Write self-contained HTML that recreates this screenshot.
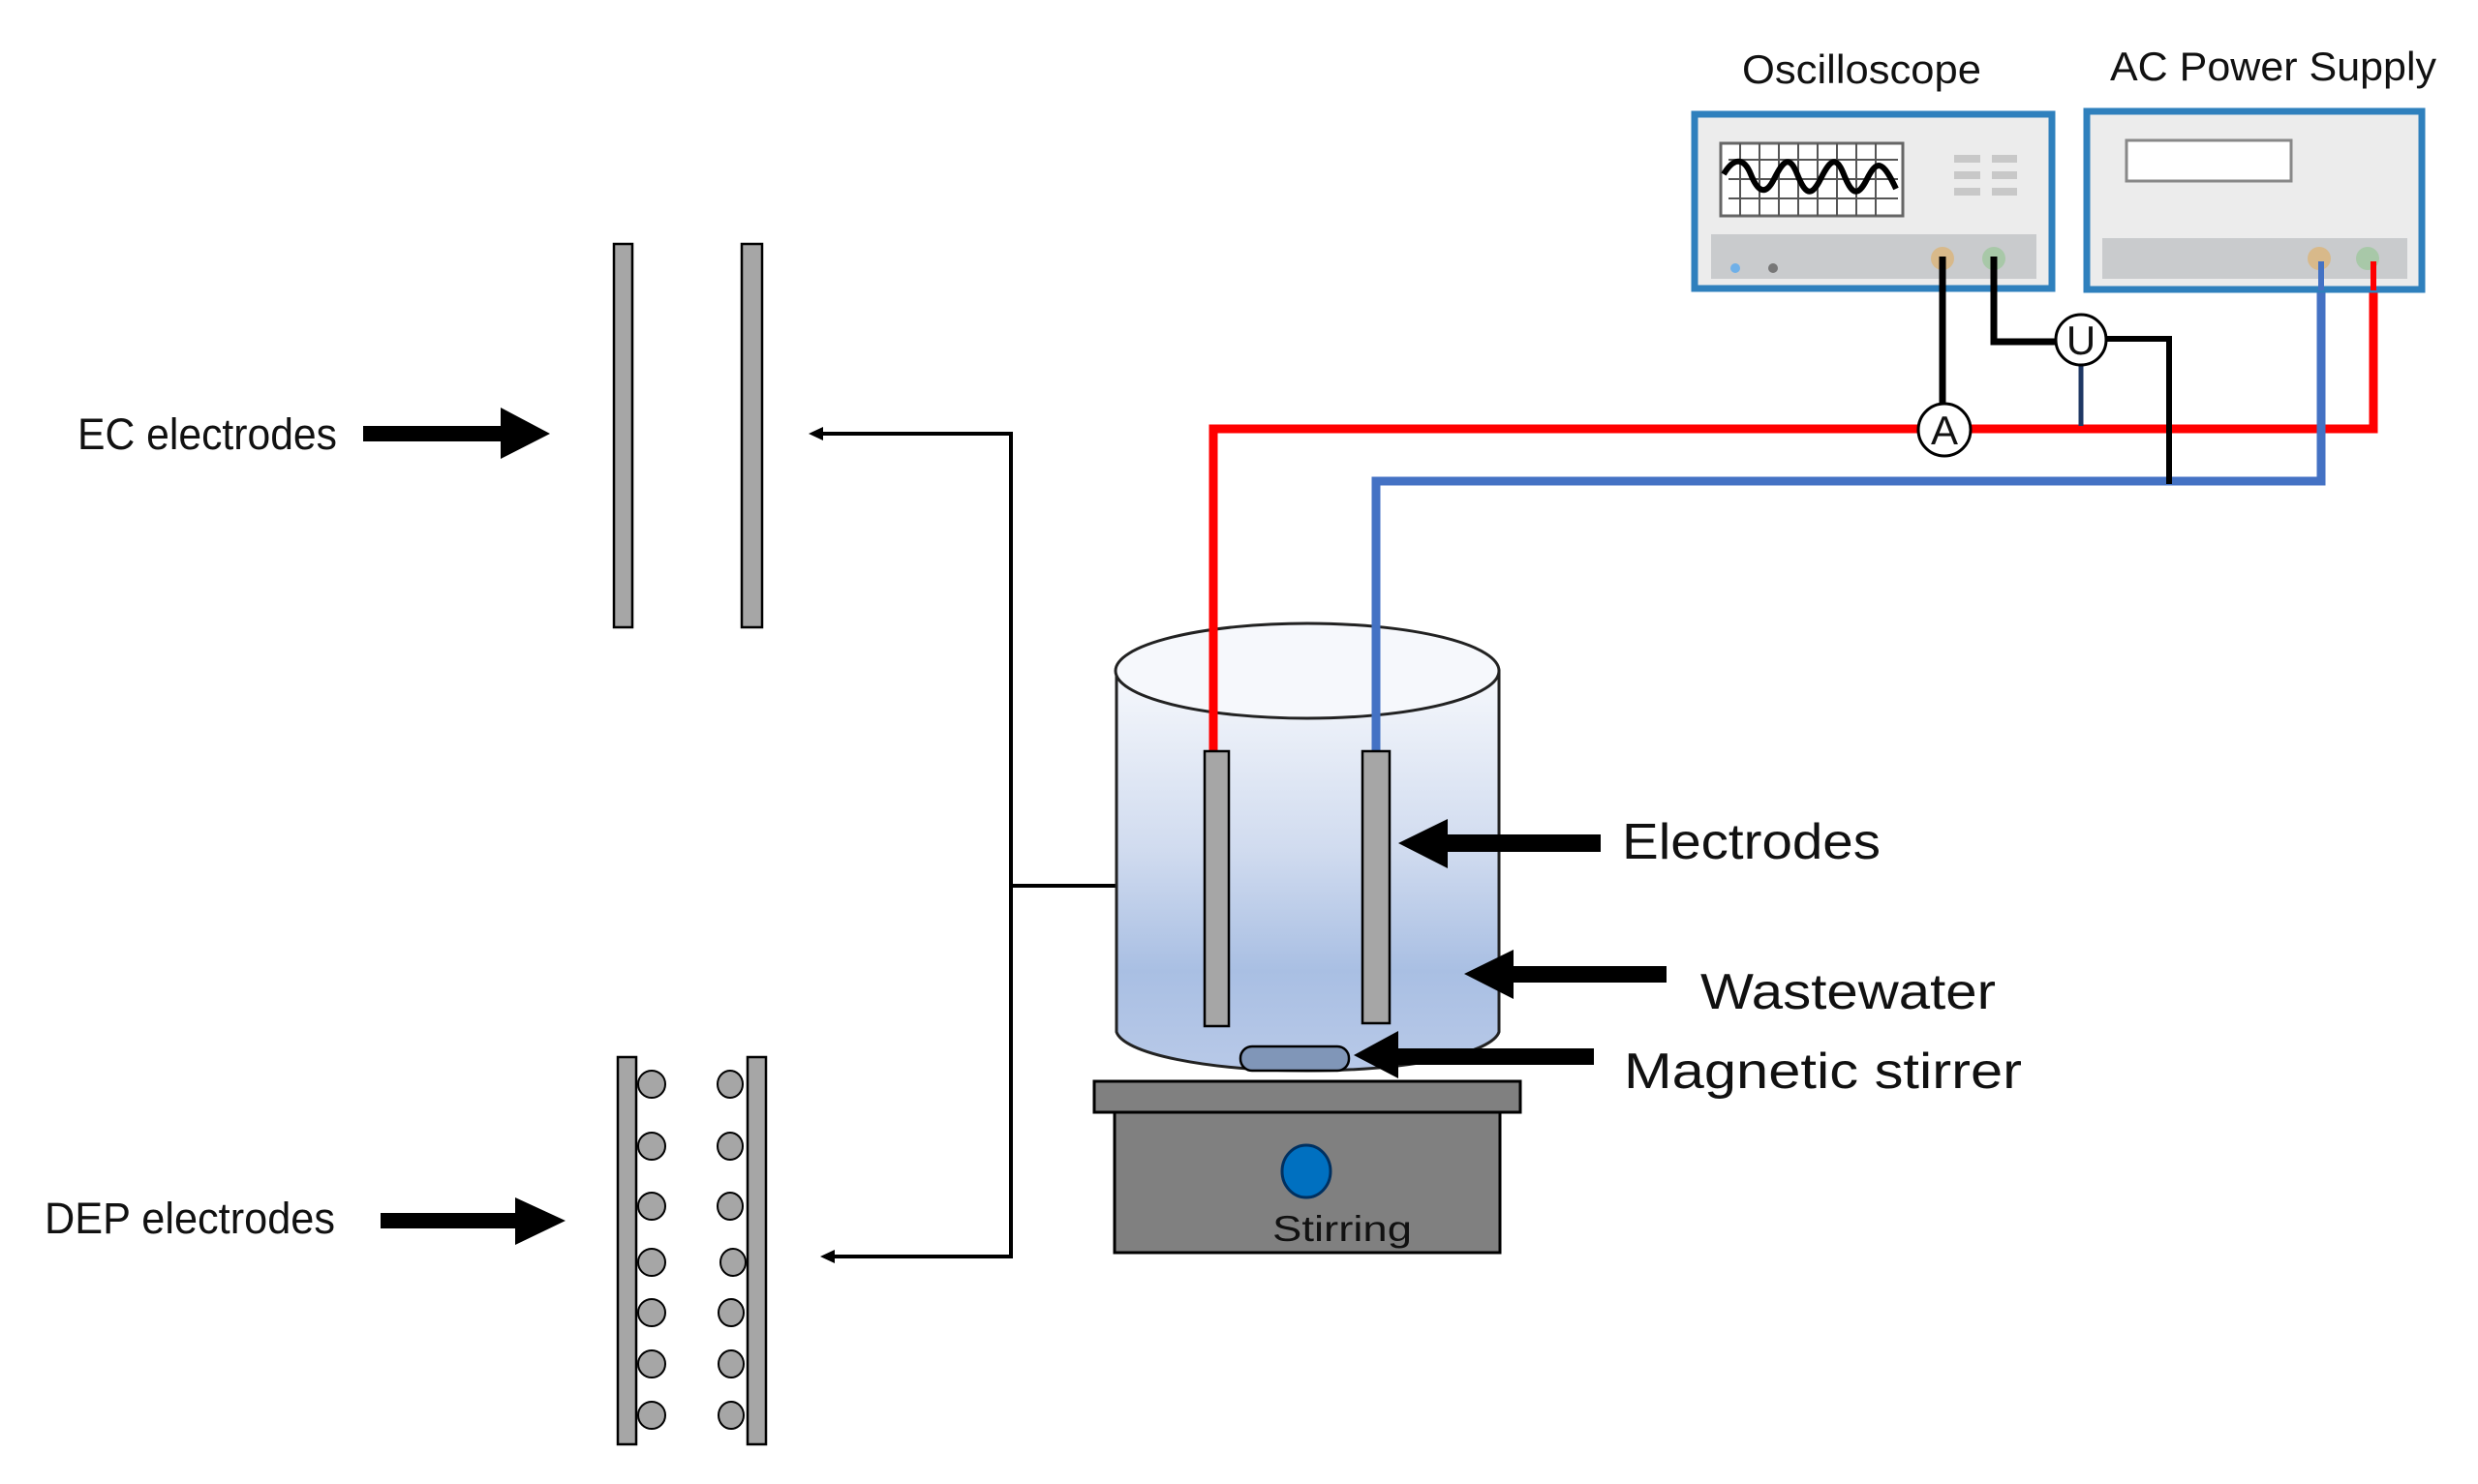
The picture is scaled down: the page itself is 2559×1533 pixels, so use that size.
<!DOCTYPE html>
<html><head><meta charset="utf-8"><style>html,body{margin:0;padding:0;background:#fff}svg{display:block}text{font-family:"Liberation Sans",sans-serif;fill:#111}</style></head>
<body>
<svg width="2559" height="1533" viewBox="0 0 2559 1533" xmlns="http://www.w3.org/2000/svg">
<defs>
<linearGradient id="water" x1="0" y1="0" x2="0" y2="1">
<stop offset="0" stop-color="#f6f8fc"/><stop offset="0.45" stop-color="#d0dbef"/><stop offset="0.75" stop-color="#a9bfe3"/><stop offset="1" stop-color="#b8c9e8"/>
</linearGradient>
</defs>

<!-- Left labels & arrows -->
<text x="80" y="464" font-size="45" textLength="268" lengthAdjust="spacingAndGlyphs">EC electrodes</text>
<rect x="375" y="440" width="150" height="16" fill="#000"/>
<polygon points="517,421 568,448 517,474" fill="#000"/>
<text x="46" y="1274" font-size="45" textLength="300" lengthAdjust="spacingAndGlyphs">DEP electrodes</text>
<rect x="393" y="1253" width="145" height="16" fill="#000"/>
<polygon points="532,1237 584,1261 532,1286" fill="#000"/>

<!-- EC plates -->
<rect x="634" y="252" width="19" height="396" fill="#a6a6a6" stroke="#000" stroke-width="2.5"/>
<rect x="766" y="252" width="21" height="396" fill="#a6a6a6" stroke="#000" stroke-width="2.5"/>

<!-- DEP plates -->
<rect x="638" y="1092" width="19" height="400" fill="#a6a6a6" stroke="#000" stroke-width="2.5"/>
<rect x="772" y="1092" width="19" height="400" fill="#a6a6a6" stroke="#000" stroke-width="2.5"/>
<g fill="#a6a6a6" stroke="#000" stroke-width="2">
<ellipse cx="673" cy="1120" rx="14" ry="14"/><ellipse cx="754" cy="1120" rx="13" ry="14"/>
<ellipse cx="673" cy="1184" rx="14" ry="14"/><ellipse cx="754" cy="1184" rx="13" ry="14"/>
<ellipse cx="673" cy="1246" rx="14" ry="14"/><ellipse cx="754" cy="1246" rx="13" ry="14"/>
<ellipse cx="673" cy="1304" rx="14" ry="14"/><ellipse cx="757" cy="1304" rx="13" ry="14"/>
<ellipse cx="673" cy="1356" rx="14" ry="14"/><ellipse cx="755" cy="1356" rx="13" ry="14"/>
<ellipse cx="673" cy="1409" rx="14" ry="14"/><ellipse cx="755" cy="1409" rx="13" ry="14"/>
<ellipse cx="673" cy="1462" rx="14" ry="14"/><ellipse cx="755" cy="1462" rx="13" ry="14"/>
</g>

<!-- Connector lines -->
<polyline points="845,448 1044,448 1044,1298 857,1298" fill="none" stroke="#000" stroke-width="4"/>
<polygon points="835,448 850,441 850,455" fill="#000"/>
<polygon points="847,1298 862,1291 862,1305" fill="#000"/>
<line x1="1044" y1="915" x2="1245" y2="915" stroke="#000" stroke-width="4"/>

<!-- Hotplate -->
<rect x="1151" y="1149" width="398" height="145" fill="#808080" stroke="#000" stroke-width="3"/>
<rect x="1130" y="1117" width="440" height="32" fill="#808080" stroke="#000" stroke-width="3"/>
<ellipse cx="1349" cy="1210" rx="25" ry="27" fill="#0070c0" stroke="#003060" stroke-width="3"/>
<text x="1314" y="1282" font-size="37" textLength="144" lengthAdjust="spacingAndGlyphs">Stirring</text>

<!-- Cylinder -->
<path d="M1153,693 L1153,1066 A198,43 0 0 0 1548,1066 L1548,693 Z" fill="url(#water)" stroke="#222" stroke-width="3"/>
<ellipse cx="1350" cy="693" rx="198" ry="49" fill="#f6f8fc" stroke="#222" stroke-width="3"/>

<!-- Wires -->
<polyline points="1253,778 1253,443 2451,443 2451,300" fill="none" stroke="#ff0000" stroke-width="9"/>
<polyline points="1421,778 1421,497 2397,497 2397,300" fill="none" stroke="#4472c4" stroke-width="9"/>

<!-- Electrodes in cylinder -->
<rect x="1244" y="776" width="25" height="284" fill="#a6a6a6" stroke="#000" stroke-width="2.5"/>
<rect x="1407" y="776" width="28" height="281" fill="#a6a6a6" stroke="#000" stroke-width="2.5"/>
<rect x="1281" y="1081" width="112" height="25" rx="12" fill="#8096b8" stroke="#000" stroke-width="2.5"/>

<!-- Right arrows and labels -->
<rect x="1490" y="862" width="163" height="18" fill="#000"/>
<polygon points="1444,871 1495,846 1495,897" fill="#000"/>
<text x="1675" y="887" font-size="52" textLength="267" lengthAdjust="spacingAndGlyphs">Electrodes</text>
<rect x="1558" y="998" width="163" height="17" fill="#000"/>
<polygon points="1512,1006 1563,981 1563,1032" fill="#000"/>
<text x="1756" y="1042" font-size="52" textLength="305" lengthAdjust="spacingAndGlyphs">Wastewater</text>
<rect x="1440" y="1083" width="206" height="17" fill="#000"/>
<polygon points="1398,1090 1444,1065 1444,1114" fill="#000"/>
<text x="1677" y="1124" font-size="52" textLength="411" lengthAdjust="spacingAndGlyphs">Magnetic stirrer</text>

<!-- Oscilloscope -->
<text x="1799" y="86" font-size="42" textLength="247" lengthAdjust="spacingAndGlyphs">Oscilloscope</text>
<rect x="1750" y="118" width="369" height="180" fill="#ececec" stroke="#2f80bd" stroke-width="7"/>
<rect x="1767" y="242" width="336" height="46" fill="#c9cbcd"/>
<rect x="1777" y="148" width="188" height="75" fill="#fff" stroke="#666" stroke-width="3"/>
<g stroke="#555" stroke-width="2">
<line x1="1797" y1="148" x2="1797" y2="223"/><line x1="1817" y1="148" x2="1817" y2="223"/><line x1="1837" y1="148" x2="1837" y2="223"/><line x1="1857" y1="148" x2="1857" y2="223"/><line x1="1877" y1="148" x2="1877" y2="223"/><line x1="1897" y1="148" x2="1897" y2="223"/><line x1="1917" y1="148" x2="1917" y2="223"/><line x1="1937" y1="148" x2="1937" y2="223"/>
<line x1="1785" y1="165" x2="1960" y2="165"/><line x1="1785" y1="185" x2="1960" y2="185"/><line x1="1785" y1="205" x2="1960" y2="205"/>
</g>
<path d="M1780,180 C1792,160 1802,165 1808,180 S1822,205 1832,185 S1848,160 1856,180 S1870,205 1880,185 S1896,160 1904,180 S1918,205 1928,185 S1944,165 1958,195" fill="none" stroke="#000" stroke-width="6"/>
<g fill="#c8c8c8"><rect x="2018" y="160" width="27" height="8"/><rect x="2057" y="160" width="26" height="8"/><rect x="2018" y="177" width="27" height="8"/><rect x="2057" y="177" width="26" height="8"/><rect x="2018" y="194" width="27" height="8"/><rect x="2057" y="194" width="26" height="8"/></g>
<circle cx="1792" cy="277" r="5" fill="#6fb0e8"/><circle cx="1831" cy="277" r="5" fill="#777"/>
<circle cx="2006" cy="267" r="12" fill="#d8b98a"/><circle cx="2059" cy="267" r="12" fill="#a8c8a8"/>

<!-- AC supply -->
<text x="2179" y="83" font-size="42" textLength="337" lengthAdjust="spacingAndGlyphs">AC Power Supply</text>
<rect x="2155" y="115" width="346" height="184" fill="#ececec" stroke="#2f80bd" stroke-width="7"/>
<rect x="2171" y="246" width="315" height="42" fill="#c9cbcd"/>
<rect x="2196" y="145" width="170" height="42" fill="#fff" stroke="#888" stroke-width="3"/>
<circle cx="2395" cy="267" r="12" fill="#d8b98a"/><circle cx="2445" cy="267" r="12" fill="#a8c8a8"/>

<!-- Measurement wires -->
<line x1="2006" y1="265" x2="2006" y2="420" stroke="#000" stroke-width="7"/>
<polyline points="2059,265 2059,353 2125,353" fill="none" stroke="#000" stroke-width="7"/>
<polyline points="2172,350 2240,350 2240,500" fill="none" stroke="#000" stroke-width="6"/>
<line x1="2149" y1="378" x2="2149" y2="440" stroke="#1f3864" stroke-width="5"/>
<line x1="2451" y1="270" x2="2451" y2="300" stroke="#ff0000" stroke-width="6"/>
<line x1="2397" y1="270" x2="2397" y2="300" stroke="#4472c4" stroke-width="6"/>
<circle cx="2149" cy="351" r="26" fill="#fff" stroke="#000" stroke-width="3"/>
<text x="2149" y="366" font-size="42" text-anchor="middle">U</text>
<circle cx="2008" cy="444" r="27" fill="#fff" stroke="#000" stroke-width="3"/>
<text x="2008" y="459" font-size="42" text-anchor="middle">A</text>
</svg>
</body></html>
